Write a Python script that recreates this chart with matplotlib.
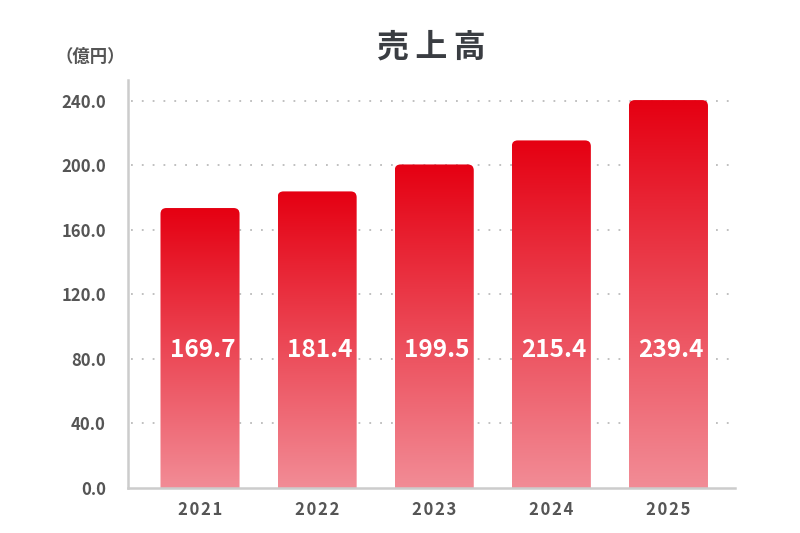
import numpy as np
import matplotlib
matplotlib.use("Agg")
import matplotlib.pyplot as plt
from matplotlib.patches import FancyBboxPatch
from matplotlib.colors import LinearSegmentedColormap

plt.rcParams['font.family'] = ['Noto Sans CJK JP', 'DejaVu Sans']

years = ["2021", "2022", "2023", "2024", "2025"]
sales = [169.7, 181.4, 199.5, 215.4, 239.4]          # labelled values (億円)
bar_heights = [173.5, 183.8, 200.5, 215.4, 240.4]     # drawn bar heights
yticks = [0, 40, 80, 120, 160, 200, 240]
title = "売\u2009上\u2009高"
unit = "（億円）"

fig = plt.figure(figsize=(8, 5.33), dpi=100)
ax = fig.add_axes([0.16, 0.0844, 0.759, 0.766])

x = np.arange(len(years))
width = 0.675

cmap = LinearSegmentedColormap.from_list("g", ["#f28c96", "#e50012"])
grad = np.linspace(0, 1, 256).reshape(-1, 1)

rx = 0.05
for xi, h, lab in zip(x, bar_heights, sales):
    left = xi - width / 2
    patch = FancyBboxPatch((left, -20), width, h + 20,
                           boxstyle=f"round,pad=0,rounding_size={rx}",
                           mutation_aspect=73, transform=ax.transData,
                           facecolor='none', edgecolor='none')
    ax.add_patch(patch)
    im = ax.imshow(grad, cmap=cmap, extent=[left, left + width, 0, h],
                   origin='lower', aspect='auto', zorder=2)
    im.set_clip_path(patch)
    ax.text(xi + 0.02, 85.5, f"{lab:.1f}", ha='center', va='center', color='white',
            fontsize=17.5, fontweight='bold', zorder=3)

ax.set_aspect('auto')
ax.set_xlim(-0.615, 4.57)
ax.set_ylim(0, 253)

ax.set_yticks(yticks)
ax.set_yticklabels([f"{v:.1f}" for v in yticks])
ax.set_xticks(x)
ax.set_xticklabels(["\u200a".join(y) for y in years])
for t in ax.get_yticklabels():
    t.set_fontweight('bold'); t.set_color('#555555'); t.set_fontsize(12)
for t in ax.get_xticklabels():
    t.set_fontweight('bold'); t.set_color('#555555'); t.set_fontsize(12)
ax.tick_params(axis='y', length=0, pad=16)
ax.tick_params(axis='x', length=0, pad=9)

for v in yticks[1:]:
    ax.axhline(v, xmin=0.005, xmax=1, color='#bbbbbb', lw=1.3,
               linestyle=(0, (1, 5)), zorder=1)

for s in ['top', 'right']:
    ax.spines[s].set_visible(False)
for s in ['left', 'bottom']:
    ax.spines[s].set_color('#cccccc')
    ax.spines[s].set_linewidth(1.8)

fig.text(0.539, 0.91, title, ha='center', va='center', fontsize=23,
         fontweight='bold', color='#3a3d42')
fig.text(0.113, 0.893, unit, ha='center', va='center', fontsize=12.5,
         fontweight='bold', color='#555555')

fig.savefig("out.png", dpi=100)
